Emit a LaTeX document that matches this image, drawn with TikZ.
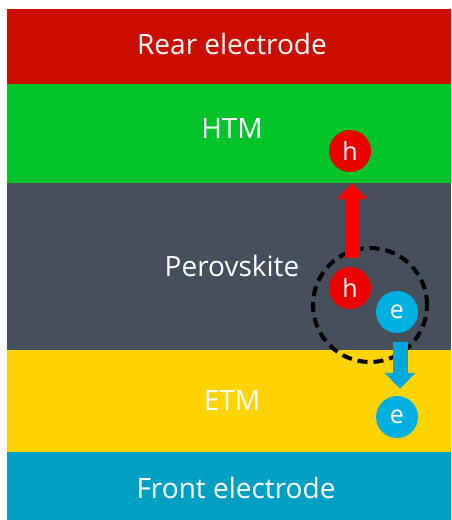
\documentclass[tikz,border=0pt]{standalone}
\usepackage{fontspec}
\setmainfont{Open Sans}
\usetikzlibrary{arrows.meta}
\definecolor{rearc}{RGB}{204,14,0}
\definecolor{htmc}{RGB}{0,196,42}
\definecolor{perc}{RGB}{70,80,92}
\definecolor{etmc}{RGB}{255,211,0}
\definecolor{frontc}{RGB}{0,160,196}
\definecolor{holec}{RGB}{236,0,0}
\definecolor{elecc}{RGB}{0,176,224}
\definecolor{arrred}{RGB}{255,0,0}
\definecolor{arrblue}{RGB}{0,168,224}
\begin{document}
\begin{tikzpicture}[x=1pt,y=-1pt,
  layer/.style={fill=#1,draw=none},
  layertext/.style={text=white,font=\fontsize{28}{32}\selectfont},
  carrier/.style={circle,fill=#1,draw=none,minimum size=42pt,inner sep=0pt,text=white,font=\fontsize{25}{28}\selectfont},
  flow/.style={line width=15pt,draw=#1,-{Triangle[width=30pt,length=16pt]}}
]
\useasboundingbox (0,0) rectangle (451,520);
\fill[white] (0,0) rectangle (451,520);
\fill[layer=rearc] (7,9) rectangle (451,84);
\fill[layer=htmc] (7,84) rectangle (451,183);
\fill[layer=perc] (7,183) rectangle (451,350);
\fill[layer=etmc] (7,350) rectangle (451,452);
\fill[layer=frontc] (7,452) rectangle (451,520);
\node[layertext] (rear) at (232,44) {Rear electrode};
\node[layertext] (htm) at (232,129) {HTM};
\node[layertext] (per) at (232,266) {Perovskite};
\node[layertext] (etm) at (232,400) {ETM};
\node[layertext] (front) at (236,488) {Front electrode};
\node[circle,draw=black,line width=4pt,dash pattern=on 10pt off 6pt,minimum size=114pt,inner sep=0pt] (pair) at (370,305) {};
\node[carrier=holec] (hup) at (350,151) {h};
\node[carrier=holec] (hlow) at (350,288) {h};
\node[carrier=elecc] (emid) at (397,312) {e};
\node[carrier=elecc] (elow) at (397,417) {e};
\draw[flow=arrred,shorten <=9pt,shorten >=11pt] ([xshift=2pt]hlow.north) -- ([xshift=2pt]hup.south);
\draw[flow=arrblue,shorten <=9pt,shorten >=7pt] ([xshift=3pt]emid.south) -- ([xshift=3pt]elow.north);
\end{tikzpicture}
\end{document}
